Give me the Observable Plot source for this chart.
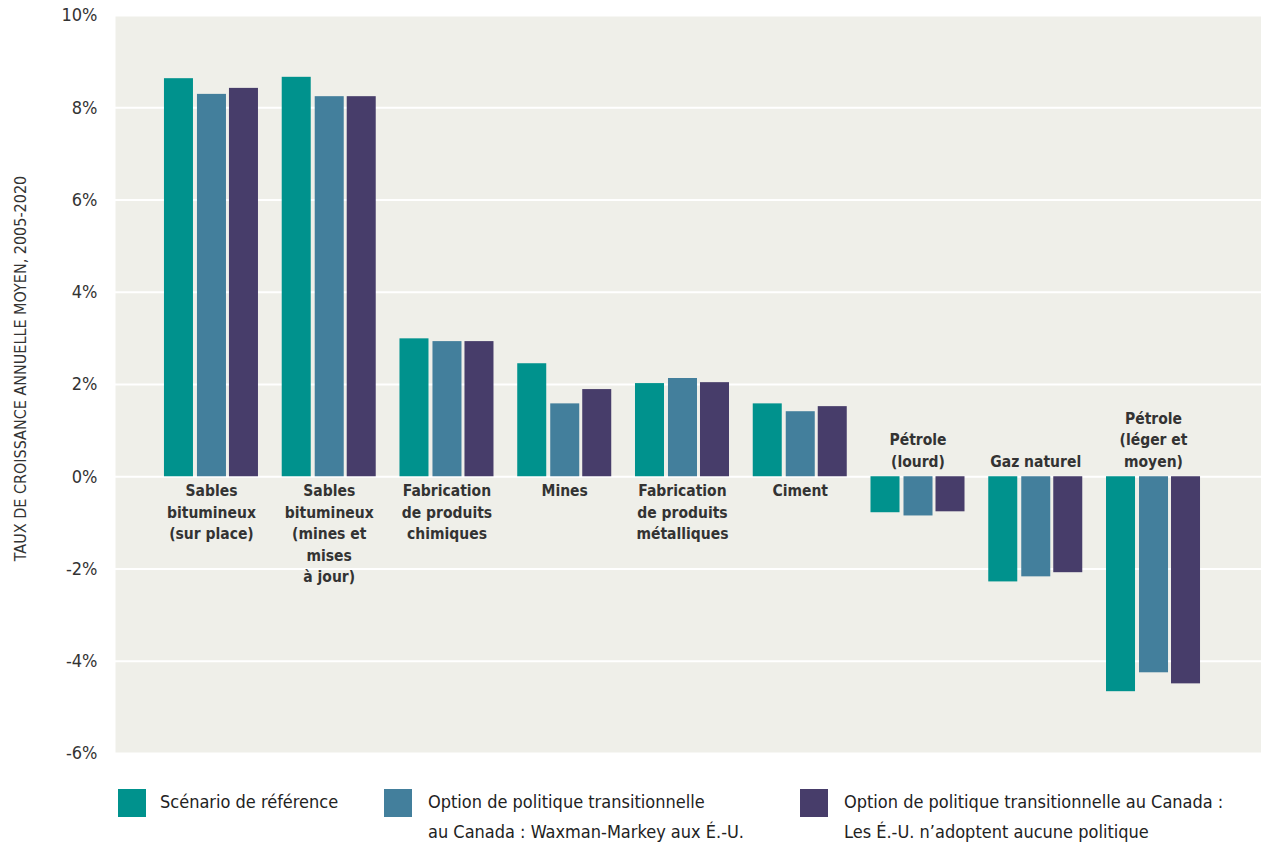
<!DOCTYPE html>
<html><head><meta charset="utf-8">
<script src="https://cdn.jsdelivr.net/npm/d3@7"></script>
<script src="https://cdn.jsdelivr.net/npm/@observablehq/plot@0.6"></script>
<style>
body{margin:0;background:#fff;}
#wrap{position:relative;width:1261px;height:844px;font-family:"Liberation Sans Narrow","DejaVu Sans Condensed","Roboto Condensed",Roboto,sans-serif;font-stretch:condensed;color:#222;}
#chart svg{display:block;}
.item{position:absolute;top:789px;display:flex;align-items:flex-start;font-size:18px;line-height:30px;color:#222;}
.sw{width:28px;height:28px;flex:none;}
.lbl{margin-top:-2px;}
</style>
</head><body>
<div id="wrap"><div id="chart"></div><div id="legend"></div></div>
<script>
const categories = [
  "Sables\nbitumineux\n(sur place)",
  "Sables\nbitumineux\n(mines et\nmises\nà jour)",
  "Fabrication\nde produits\nchimiques",
  "Mines",
  "Fabrication\nde produits\nmétalliques",
  "Ciment",
  "Pétrole\n(lourd)",
  "Gaz naturel",
  "Pétrole\n(léger et\nmoyen)"
];
const seriesNames = [
  "Scénario de référence",
  "Option de politique transitionnelle\nau Canada : Waxman-Markey aux É.-U.",
  "Option de politique transitionnelle au Canada :\nLes É.-U. n’adoptent aucune politique"
];
const valuesReference = [8.63, 8.66, 2.99, 2.45, 2.02, 1.58, -0.78, -2.28, -4.66];
const valuesWaxman   = [8.29, 8.24, 2.93, 1.58, 2.13, 1.41, -0.85, -2.17, -4.25];
const valuesNone     = [8.42, 8.24, 2.93, 1.89, 2.04, 1.52, -0.76, -2.08, -4.49];
const yTicks = [-6, -4, -2, 0, 2, 4, 6, 8, 10];
const colors = ["#00928d", "#437f9c", "#473d6a"];
const yLabel = "TAUX DE CROISSANCE ANNUELLE MOYEN, 2005-2020";

const allValues = [valuesReference, valuesWaxman, valuesNone];
const rows = [];
allValues.forEach((vals, s) => vals.forEach((v, i) => rows.push({cat: categories[i], series: seriesNames[s], s, value: v})));
const labelRows = categories.map((c, i) => ({cat: c, neg: valuesReference[i] < 0}));

// bar placement within each band (styles)
const insets = [[11.9, 76.85], [44.9, 43.85], [76.9, 11.85]];

const fontFam = '"Liberation Sans Narrow","DejaVu Sans Condensed","Roboto Condensed",Roboto,sans-serif';

const plot = Plot.plot({
  width: 1261,
  height: 772,
  marginLeft: 115,
  marginRight: 0,
  marginTop: 15,
  marginBottom: 19,
  style: {fontFamily: fontFam, background: "#fff", color: "#333"},
  x: {type: "band", domain: categories, paddingInner: 0, paddingOuter: 0.366, align: 0.43, round: false, axis: null},
  y: {domain: [-6, 10], axis: null},
  marks: [
    Plot.frame({fill: "#efefe9", stroke: "none"}),
    Plot.gridY(yTicks, {stroke: "#fff", strokeOpacity: 1, strokeWidth: 2}),
    ...[0, 1, 2].map(s => Plot.barY(rows.filter(d => d.s === s), {
      x: "cat", y: "value", fill: colors[s],
      insetLeft: insets[s][0], insetRight: insets[s][1]
    })),
    Plot.text(labelRows.filter(d => !d.neg), {
      x: "cat", y: () => 0, text: "cat", lineAnchor: "top", dy: 4,
      fontSize: 15.5, fontWeight: "bold", lineHeight: 1.39, fill: "#333"
    }),
    Plot.text(labelRows.filter(d => d.neg), {
      x: "cat", y: () => 0, text: "cat", lineAnchor: "bottom", dy: -10,
      fontSize: 15.5, fontWeight: "bold", lineHeight: 1.39, fill: "#333"
    }),
    Plot.axisY(yTicks, {
      tickFormat: d => d + "%", tickSize: 0, tickPadding: 18, fontSize: 18,
      label: null, fill: "#333"
    }),
    Plot.text([yLabel], {
      frameAnchor: "left", textAnchor: "middle", rotate: -90, dx: -95, dy: -16, text: d => d,
      fontSize: 16, fill: "#333"
    })
  ]
});
document.getElementById("chart").appendChild(plot);

const legendLefts = [118, 384, 800];
const legend = document.getElementById("legend");
seriesNames.forEach((name, i) => {
  const item = document.createElement("div");
  item.className = "item";
  item.style.left = legendLefts[i] + "px";
  const sw = document.createElement("div");
  sw.className = "sw";
  sw.style.background = colors[i];
  sw.style.marginRight = (i === 0 ? 14 : 16) + "px";
  const lbl = document.createElement("div");
  lbl.className = "lbl";
  lbl.innerHTML = name.split("\n").join("<br>");
  item.appendChild(sw); item.appendChild(lbl);
  legend.appendChild(item);
});
</script>
</body></html>
